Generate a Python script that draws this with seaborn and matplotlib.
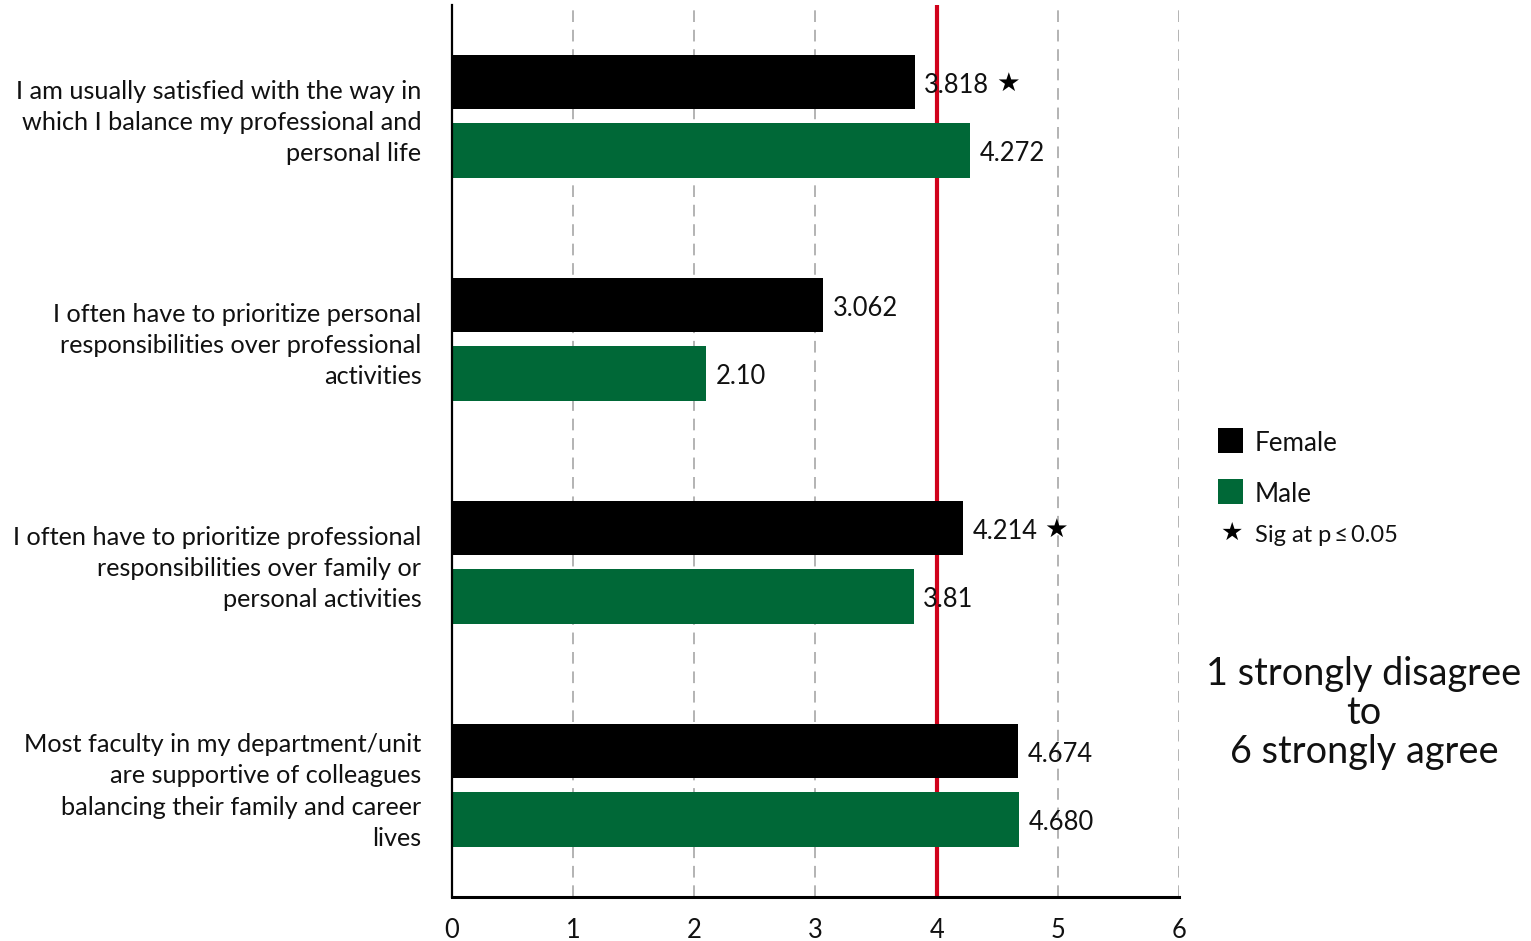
import matplotlib
matplotlib.use("Agg")
import matplotlib.pyplot as plt
from matplotlib.patches import Rectangle
import seaborn as sns
import pandas as pd

# Survey items (Likert 1-6), mean scores by gender
items = [
    "I am usually satisfied with the way in\nwhich I balance my professional and\npersonal life",
    "I often have to prioritize personal\nresponsibilities over professional\nactivities",
    "I often have to prioritize professional\nresponsibilities over family or\npersonal activities",
    "Most faculty in my department/unit\nare supportive of colleagues\nbalancing their family and career\nlives",
]
female = [3.818, 3.062, 4.214, 4.674]
male = [4.272, 2.10, 3.81, 4.680]
female_decimals = [3, 3, 3, 3]
male_decimals = [3, 2, 2, 3]
female_sig = [True, False, True, False]
male_sig = [False, False, False, False]
reference_value = 4
x_ticks = [0, 1, 2, 3, 4, 5, 6]

GREEN = "#006837"
RED = "#d0021b"
TXT = "#111111"

df = pd.DataFrame({
    "item": items * 2,
    "score": female + male,
    "gender": ["Female"] * len(items) + ["Male"] * len(items),
})

sns.set_theme(style="white")
plt.rcParams["font.family"] = ["Lato", "DejaVu Sans"]

fig = plt.figure(figsize=(15.31, 9.41), dpi=100)
ax = fig.add_axes([0.2952, 0.047, 0.4749, 0.948])

# grid behind everything
for t in x_ticks[1:]:
    ax.axvline(t, color="#b3b3b3", lw=1.4, ls=(0, (6, 4)), zorder=0)
ax.axvline(reference_value, color=RED, lw=3, zorder=1)

sns.barplot(data=df, x="score", y="item", hue="gender", orient="h",
            palette={"Female": "black", "Male": GREEN},
            width=0.612, gap=0.2, saturation=1, errorbar=None,
            linewidth=0, legend=False, ax=ax, zorder=2)

# value labels (and significance stars)
containers = ax.containers
for cont, vals, decs, sigs in [(containers[0], female, female_decimals, female_sig),
                               (containers[1], male, male_decimals, male_sig)]:
    for bar, v, d, s in zip(cont, vals, decs, sigs):
        yc = bar.get_y() + bar.get_height() / 2
        label = f"{v:.{d}f}"
        ax.annotate(label, (v, yc), xytext=(7, -2.5), textcoords="offset points",
                    ha="left", va="center", fontsize=18.4, color=TXT, zorder=5)
        if s:
            ax.annotate("★", (v, yc), xytext=(59, -1), textcoords="offset points",
                        ha="left", va="center", fontsize=19, color="black",
                        family=["DejaVu Sans"], zorder=5)

ax.set_xlim(0, 6)
ax.set_ylim(3.5, -0.5)
ax.set_xticks(x_ticks)
ax.set_xticklabels([str(t) for t in x_ticks], fontsize=18.4, color=TXT)
ax.tick_params(axis="x", length=0, pad=15)
ax.tick_params(axis="y", length=0, pad=22, labelsize=18.2, labelcolor=TXT)
for lab in ax.get_yticklabels():
    lab.set_multialignment("right")
    lab.set_linespacing(1.44)
ax.set_xlabel("")
ax.set_ylabel("")

for side in ["top", "right"]:
    ax.spines[side].set_visible(False)
ax.spines["left"].set_color("black")
ax.spines["left"].set_linewidth(1.6)
ax.spines["bottom"].set_color("black")
ax.spines["bottom"].set_linewidth(2.2)

# legend, laid out in figure coordinates
W, H = 1531, 941
sq = 25
for top, color, name in [(428, "black", "Female"), (479, GREEN, "Male")]:
    fig.patches.append(Rectangle((1218 / W, 1 - (top + sq) / H), sq / W, sq / H,
                                 transform=fig.transFigure, facecolor=color,
                                 edgecolor="none"))
    fig.text(1255 / W, 1 - (top + sq / 2 + 3) / H, name, ha="left", va="center",
             fontsize=18.7, color=TXT)
fig.text(1232 / W, 1 - 533 / H, "★", ha="center", va="center", fontsize=18,
         color="black", family=["DejaVu Sans"])
fig.text(1255 / W, 1 - 536 / H, "Sig at p\u2009\u2264\u20090.05", ha="left",
         va="center", fontsize=17, color=TXT)

fig.text(0.891, 0.2425, "1 strongly disagree\nto\n6 strongly agree",
         ha="center", va="center", fontsize=27.3, linespacing=1.1, color=TXT)

fig.savefig("out.png", dpi=100)
